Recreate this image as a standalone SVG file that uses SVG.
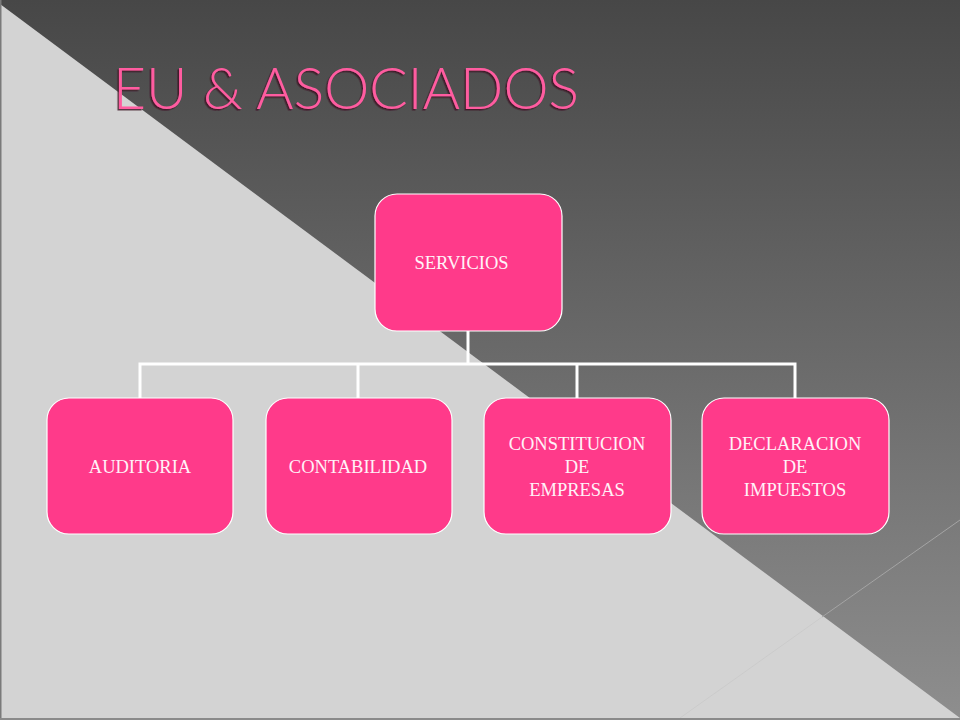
<svg xmlns="http://www.w3.org/2000/svg" width="960" height="720" viewBox="0 0 960 720">
<defs>
<linearGradient id="bg" x1="0" y1="0" x2="0" y2="1">
<stop offset="0" stop-color="#474747"/>
<stop offset="1" stop-color="#8e8e8e"/>
</linearGradient>
<filter id="sh" x="-5%" y="-20%" width="110%" height="140%">
<feDropShadow dx="-1.5" dy="1.5" stdDeviation="0.6" flood-color="#3a1020" flood-opacity="0.8"/>
</filter>
</defs>
<style>
.node rect{fill:#ff3a8a;stroke:#ffffff;stroke-width:1.2}
.node text{font-family:"Liberation Serif","Times New Roman",serif;font-size:18.5px;fill:#fff2f8;text-anchor:middle}
#connectors path{fill:none;stroke:#ffffff;stroke-width:3}
</style>
<rect x="0" y="0" width="960" height="720" fill="url(#bg)"/>
<polygon points="0,4 960,718 0,718" fill="#d3d3d3"/>
<line x1="960" y1="520" x2="822" y2="617" stroke="#a4a4a4" stroke-width="1"/>
<line x1="822" y1="617" x2="680" y2="718" stroke="#cbcbcb" stroke-width="1"/>
<rect x="0" y="0" width="1.5" height="720" fill="#7a7a7a"/>
<rect x="0" y="718" width="960" height="2" fill="#8a8a8a"/>
<text x="113" y="109" textLength="466" lengthAdjust="spacing" font-family="Lato,'Liberation Sans',Arial,sans-serif" font-weight="300" font-size="57" fill="#ff5ca0" filter="url(#sh)">EU &amp; ASOCIADOS</text>
<g id="connectors">
<path d="M468,331 V364"/>
<path d="M140,399 V364 H795 V399"/>
<path d="M358,364 V399"/>
<path d="M577,364 V399"/>
</g>
<g id="servicios" class="node">
<rect x="375" y="194" width="187" height="137" rx="22"/>
<text x="461.5" y="269">SERVICIOS</text>
</g>
<g id="auditoria" class="node">
<rect x="47" y="398" width="186" height="136" rx="22"/>
<text x="140" y="473">AUDITORIA</text>
</g>
<g id="contabilidad" class="node">
<rect x="266" y="398" width="186" height="136" rx="22"/>
<text x="358" y="473">CONTABILIDAD</text>
</g>
<g id="constitucion" class="node">
<rect x="484" y="398" width="187" height="136" rx="22"/>
<text x="577" y="450">CONSTITUCION</text>
<text x="577" y="473">DE</text>
<text x="577" y="496">EMPRESAS</text>
</g>
<g id="declaracion" class="node">
<rect x="702" y="398" width="187" height="136" rx="22"/>
<text x="795" y="450">DECLARACION</text>
<text x="795" y="473">DE</text>
<text x="795" y="496">IMPUESTOS</text>
</g>
</svg>
